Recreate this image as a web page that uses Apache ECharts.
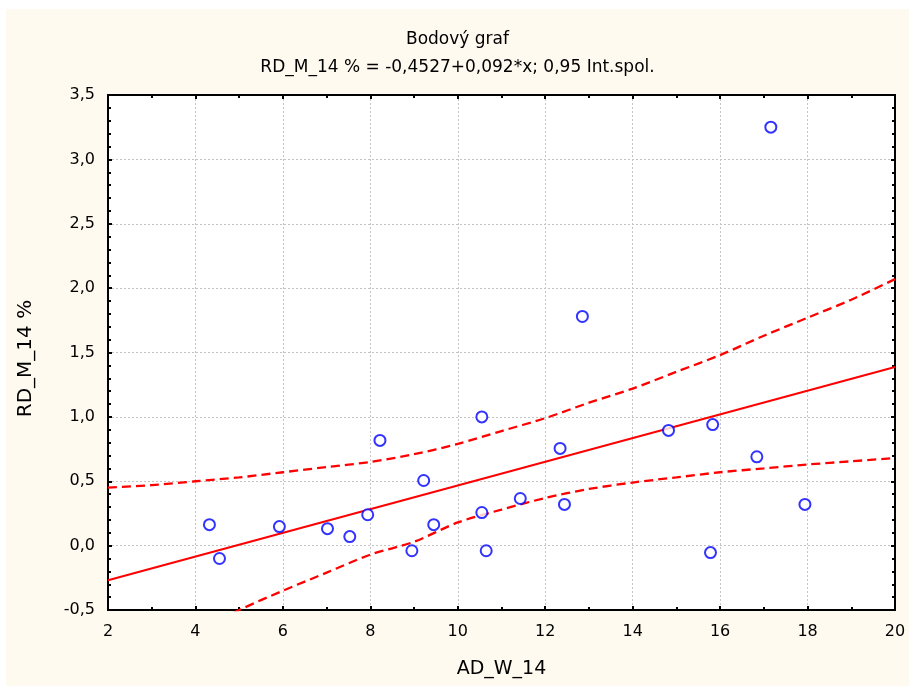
<!DOCTYPE html>
<html>
<head>
<meta charset="utf-8">
<script src="https://cdn.jsdelivr.net/npm/echarts@6/dist/echarts.min.js"></script>
<style>
  html, body { margin: 0; padding: 0; background: #ffffff; }
  #chart { position: absolute; left: 6px; top: 9px; width: 903px; height: 677px; }
</style>
</head>
<body>
<div id="chart"></div>
<script>
// measured points (AD_W_14, RD_M_14 %)
const pointsX = [4.32, 4.55, 5.92, 7.02, 7.53, 7.94, 8.22, 8.95, 9.22, 9.45, 10.55, 10.55,
  10.65, 11.43, 12.34, 12.44, 12.85, 14.82, 15.78, 15.83, 16.84, 17.16, 17.94];
const pointsY = [0.163, -0.1, 0.148, 0.132, 0.07, 0.24, 0.817, -0.04, 0.506, 0.163, 1.0, 0.257,
  -0.04, 0.366, 0.755, 0.32, 1.78, 0.895, -0.054, 0.94, 0.69, 3.25, 0.32];

// fitted line, end points
const fitX = [2, 20];
const fitY = [-0.269, 1.387];

// 0,95 confidence band
const upperX = [2, 3, 4, 5, 6, 7, 8, 9, 10, 11, 12, 13, 14, 15, 16, 17, 18, 19, 20];
const upperY = [0.45, 0.47, 0.50, 0.53, 0.57, 0.61, 0.65, 0.71, 0.79, 0.89, 0.99, 1.11, 1.22,
  1.35, 1.48, 1.63, 1.77, 1.91, 2.07];
const lowerX = [4, 5, 6, 7, 8, 9, 10, 11, 12, 13, 14, 15, 16, 17, 18, 19, 20];
const lowerY = [-0.67, -0.50, -0.35, -0.21, -0.07, 0.03, 0.18, 0.28, 0.37, 0.44, 0.49, 0.53,
  0.57, 0.60, 0.63, 0.655, 0.68];

const titleText = "Bodový graf";
const subText = "RD_M_14 % = -0,4527+0,092*x; 0,95 Int.spol.";

const zip = (xs, ys) => xs.map((x, i) => [x, ys[i]]);
const comma = (v) => v.toFixed(1).replace(".", ",");
const font = "DejaVu Sans, Arial, sans-serif";

const chart = echarts.init(document.getElementById("chart"));

const baseX = {
  type: "value", min: 2, max: 20, interval: 2,
  axisLine: { show: true, onZero: false, lineStyle: { color: "#000", width: 2 } },
  axisTick: { show: true, inside: true, length: 4, lineStyle: { color: "#000", width: 2 } },
  minorTick: { show: true, splitNumber: 2, length: 3, lineStyle: { color: "#000", width: 2 } },
};
const baseY = {
  type: "value", min: -0.5, max: 3.5, interval: 0.5,
  axisLine: { show: true, onZero: false, lineStyle: { color: "#000", width: 2 } },
  axisTick: { show: true, inside: true, length: 4, lineStyle: { color: "#000", width: 2 } },
  minorTick: { show: true, splitNumber: 5, length: 3, lineStyle: { color: "#000", width: 2 } },
};
const gridLine = { show: true, lineStyle: { color: "#c4c4c4", width: 1, type: [2, 2] } };
const bandStyle = { color: "#ff0000", width: 2.3, type: [9, 5] };

const options = {
  backgroundColor: "#fffaf0",
  animation: false,
  textStyle: { fontFamily: font },
  title: [
    { text: titleText, left: "center", top: 17,
      textStyle: { fontSize: 17, fontWeight: "normal", color: "#000", fontFamily: font } },
    { text: subText, left: "center", top: 45,
      textStyle: { fontSize: 17, fontWeight: "normal", color: "#000", fontFamily: font } },
  ],
  grid: {
    left: 102, right: 14, top: 86, bottom: 76,
    show: true, backgroundColor: "#ffffff", borderColor: "#000", borderWidth: 2,
  },
  xAxis: [
    Object.assign({}, baseX, {
      position: "bottom",
      name: "AD_W_14", nameLocation: "middle", nameGap: 50,
      nameTextStyle: { fontSize: 19, color: "#000", fontFamily: font },
      axisLabel: { fontSize: 16, color: "#000", margin: 14 },
      splitLine: gridLine,
    }),
    Object.assign({}, baseX, {
      position: "top", axisLabel: { show: false }, splitLine: { show: false },
    }),
  ],
  yAxis: [
    Object.assign({}, baseY, {
      position: "left",
      name: "RD_M_14 %", nameLocation: "middle", nameGap: 72,
      nameTextStyle: { fontSize: 20, color: "#000", fontFamily: font, padding: [0, 12, 0, 0] },
      axisLabel: { fontSize: 16, color: "#000", margin: 13, formatter: comma },
      splitLine: gridLine,
    }),
    Object.assign({}, baseY, {
      position: "right", axisLabel: { show: false }, splitLine: { show: false },
    }),
  ],
  series: [
    {
      type: "line", data: zip(upperX, upperY), smooth: 0.3, showSymbol: false, clip: true,
      lineStyle: bandStyle, z: 3,
    },
    {
      type: "line", data: zip(lowerX, lowerY), smooth: 0.3, showSymbol: false, clip: true,
      lineStyle: bandStyle, z: 3,
    },
    {
      type: "line", data: zip(fitX, fitY), showSymbol: false, clip: true,
      lineStyle: { color: "#ff0000", width: 2 }, z: 3,
    },
    {
      type: "scatter", data: zip(pointsX, pointsY), symbol: "emptyCircle", symbolSize: 11,
      itemStyle: { color: "#0000ff", borderColor: "#0000ff", borderWidth: 2 }, z: 4,
    },
  ],
};

chart.setOption(options);
</script>
</body>
</html>
